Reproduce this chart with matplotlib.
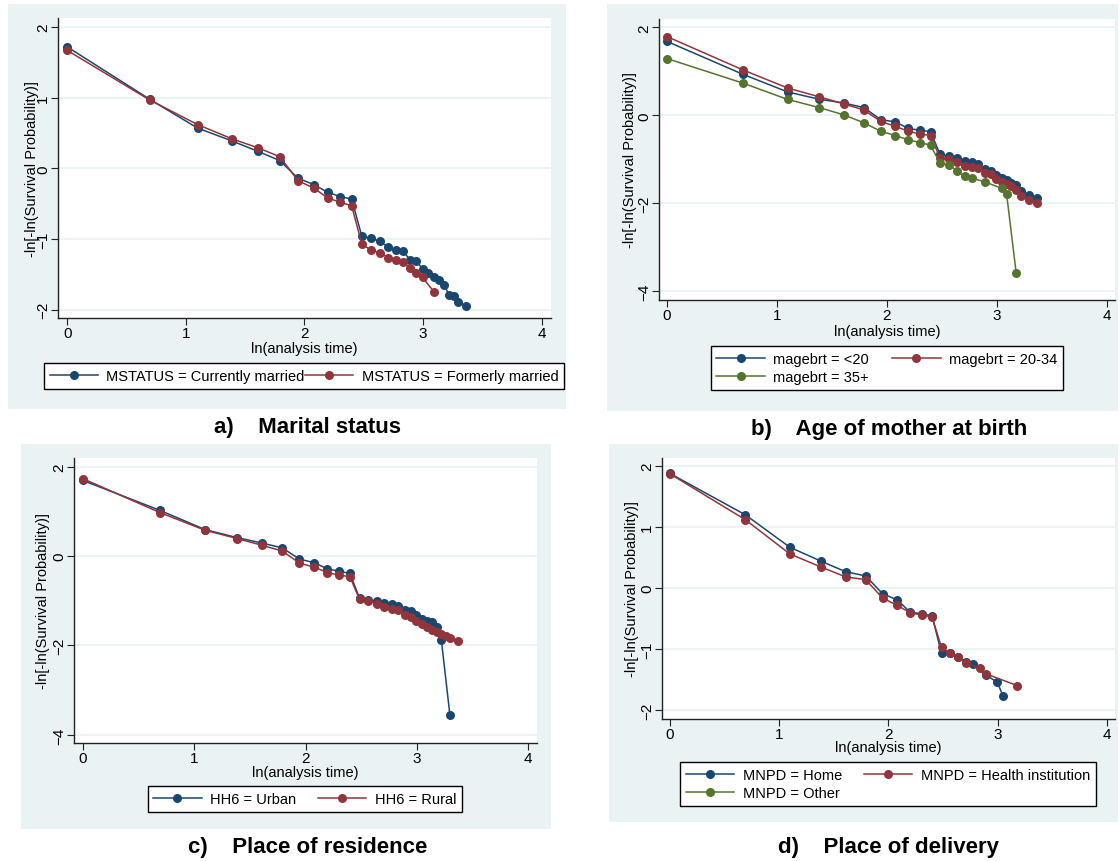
import matplotlib
matplotlib.use('Agg')
import matplotlib.pyplot as plt
from matplotlib.patches import Rectangle
from matplotlib.lines import Line2D

plt.rcParams['font.family'] = ['Liberation Sans', 'DejaVu Sans']

W, H = 1120, 862
NAVY = '#1a476f'
MAROON = '#90353b'
GREEN = '#55752f'
BG = '#eaf2f3'

# ln(analysis time) for t = 1..11 (shared start of every curve)
x_start = [0.0, 0.693, 1.099, 1.386, 1.609, 1.792, 1.946, 2.079, 2.197, 2.303, 2.398]

# a) Marital status
a_married_x = x_start + [2.485, 2.565, 2.639, 2.708, 2.773, 2.833, 2.890, 2.944, 2.996,
                         3.045, 3.091, 3.135, 3.178, 3.219, 3.258, 3.296, 3.367]
a_married_y = [1.72, 0.98, 0.57, 0.39, 0.24, 0.11, -0.14, -0.23, -0.34, -0.40, -0.435,
               -0.965, -0.99, -1.036, -1.117, -1.155, -1.173, -1.296, -1.31, -1.424,
               -1.485, -1.546, -1.584, -1.65, -1.79, -1.81, -1.89, -1.95]
a_former_x = x_start + [2.485, 2.565, 2.639, 2.708, 2.773, 2.833, 2.890, 2.944, 2.996, 3.091]
a_former_y = [1.67, 0.97, 0.62, 0.42, 0.29, 0.165, -0.175, -0.28, -0.42, -0.48, -0.53,
              -1.074, -1.163, -1.197, -1.268, -1.296, -1.325, -1.414, -1.48, -1.546, -1.745]

# b) Age of mother at birth
b_u20_x = x_start + [2.485, 2.565, 2.639, 2.708, 2.773, 2.833, 2.890, 2.944, 2.996,
                     3.045, 3.091, 3.135, 3.178, 3.219, 3.296, 3.367]
b_u20_y = [1.68, 0.93, 0.53, 0.365, 0.28, 0.175, -0.10, -0.15, -0.30, -0.34, -0.37,
           -0.89, -0.93, -0.98, -1.03, -1.07, -1.11, -1.225, -1.256, -1.36, -1.42,
           -1.48, -1.54, -1.59, -1.71, -1.81, -1.88]
b_2034_x = b_u20_x
b_2034_y = [1.79, 1.03, 0.62, 0.42, 0.26, 0.12, -0.14, -0.25, -0.365, -0.425, -0.46,
            -0.97, -1.00, -1.07, -1.16, -1.18, -1.20, -1.31, -1.33, -1.45, -1.51,
            -1.56, -1.61, -1.69, -1.84, -1.93, -1.99]
b_35_x = x_start + [2.485, 2.565, 2.639, 2.708, 2.773, 2.890, 3.045, 3.091, 3.178]
b_35_y = [1.29, 0.73, 0.36, 0.175, 0.01, -0.17, -0.365, -0.46, -0.56, -0.62, -0.68,
          -1.09, -1.12, -1.27, -1.39, -1.43, -1.51, -1.66, -1.80, -3.59]

# c) Place of residence
c_urban_x = x_start + [2.485, 2.565, 2.639, 2.708, 2.773, 2.833, 2.890, 2.944, 2.996,
                       3.045, 3.091, 3.135, 3.178, 3.219, 3.296]
c_urban_y = [1.69, 1.02, 0.59, 0.41, 0.29, 0.18, -0.07, -0.15, -0.29, -0.34, -0.39,
             -0.94, -0.985, -1.00, -1.05, -1.08, -1.11, -1.20, -1.23, -1.31, -1.40,
             -1.45, -1.48, -1.59, -1.87, -3.55]
c_rural_x = x_start + [2.485, 2.565, 2.639, 2.708, 2.773, 2.833, 2.890, 2.944, 2.996,
                       3.045, 3.091, 3.135, 3.178, 3.219, 3.258, 3.296, 3.367]
c_rural_y = [1.73, 0.97, 0.575, 0.39, 0.24, 0.11, -0.16, -0.25, -0.37, -0.43, -0.46,
             -0.97, -1.00, -1.07, -1.15, -1.18, -1.20, -1.33, -1.37, -1.46, -1.52,
             -1.59, -1.66, -1.70, -1.75, -1.79, -1.84, -1.91]

# d) Place of delivery
d_home_x = x_start + [2.485, 2.565, 2.639, 2.708, 2.773, 2.890, 2.996, 3.045]
d_home_y = [1.88, 1.20, 0.67, 0.44, 0.27, 0.20, -0.09, -0.19, -0.39, -0.42, -0.45,
            -1.065, -1.06, -1.125, -1.20, -1.24, -1.42, -1.54, -1.76]
d_health_x = x_start + [2.485, 2.565, 2.639, 2.708, 2.833, 2.890, 3.178]
d_health_y = [1.875, 1.12, 0.56, 0.345, 0.185, 0.14, -0.16, -0.28, -0.40, -0.44, -0.47,
              -0.97, -1.065, -1.12, -1.23, -1.31, -1.40, -1.595]
d_other_x = []
d_other_y = []

x_ticks = [0, 1, 2, 3, 4]


def fbox(x0, y0, x1, y1):
    # pixel box (top-left origin) -> figure fraction [left, bottom, width, height]
    return [x0 / W, 1 - y1 / H, (x1 - x0) / W, (y1 - y0) / H]


def make_panel(fig, bg, ax_px, xlim, ylim, yticks, series, order, colspace,
               leg_cx, leg_top, ylab_x, xlab_y, title, title_xy):
    fig.add_artist(Rectangle((bg[0] / W, 1 - bg[3] / H), (bg[2] - bg[0]) / W,
                             (bg[3] - bg[1]) / H, transform=fig.transFigure,
                             facecolor=BG, edgecolor='none', zorder=0))
    ax = fig.add_axes(fbox(*ax_px))
    ax.set_facecolor('white')
    for x, y, c, lab in series:
        ax.plot(x, y, '-o', color=c, lw=1.1, ms=6.5, mew=0, label=lab)
    ax.set_xlim(xlim)
    ax.set_ylim(ylim)
    ax.set_xticks(x_ticks)
    ax.set_yticks(yticks)
    ax.yaxis.grid(True, color=BG, lw=1.3)
    ax.set_axisbelow(True)
    for s in ['top', 'right']:
        ax.spines[s].set_visible(False)
    for s in ['left', 'bottom']:
        ax.spines[s].set_linewidth(1.0)
        ax.spines[s].set_color('#222222')
    ax.tick_params(axis='both', length=5, width=0.8, labelsize=11, color='#222222')
    ax.tick_params(axis='x', pad=1)
    ax.tick_params(axis='y', pad=0.5, labelrotation=90)
    for t in ax.get_yticklabels():
        t.set_va('center')

    w = ax_px[2] - ax_px[0]
    h = ax_px[3] - ax_px[1]
    ax.set_ylabel('-ln[-ln(Survival Probability)]', fontsize=10.5, va='center')
    ax.yaxis.set_label_coords((ylab_x - ax_px[0]) / w, 0.5)
    ax.set_xlabel('ln(analysis time)', fontsize=10.5, va='center')
    ax.xaxis.set_label_coords(0.5, -(xlab_y - ax_px[3]) / h)

    handles = [Line2D([], [], color=c, lw=1.1, marker='o', ms=6.5, mew=0) for _, _, c, _ in series]
    labels = [lab for _, _, _, lab in series]
    handles = [handles[i] for i in order]
    labels = [labels[i] for i in order]
    leg = ax.legend(handles, labels, loc='upper center', ncol=2,
                    bbox_to_anchor=(leg_cx / W, 1 - leg_top / H),
                    bbox_transform=fig.transFigure, fontsize=10.5, frameon=True,
                    fancybox=False, edgecolor='black', framealpha=1,
                    handlelength=3.3, handletextpad=0.6, columnspacing=colspace,
                    borderpad=0.4, labelspacing=0.3, borderaxespad=0)
    leg.get_frame().set_linewidth(1.0)

    fig.text(title_xy[0] / W, 1 - title_xy[1] / H, title, ha='center', va='center',
             fontsize=16, fontweight='bold')
    return ax


fig = plt.figure(figsize=(11.2, 8.62), dpi=100)

make_panel(fig, (8, 5, 566, 410), (58, 19, 551, 319), (-0.079, 4.08), (-2.12, 2.13),
           [-2, -1, 0, 1, 2],
           [(a_married_x, a_married_y, NAVY, 'MSTATUS = Currently married'),
            (a_former_x, a_former_y, MAROON, 'MSTATUS = Formerly married')],
           [0, 1], 0.0, 304, 364, 32, 349, 'a)    Marital status', (308, 428))

make_panel(fig, (607, 5, 1118, 412), (659, 20, 1115, 301), (-0.073, 4.077), (-4.2, 2.19),
           [-4, -2, 0, 2],
           [(b_u20_x, b_u20_y, NAVY, 'magebrt = <20'),
            (b_2034_x, b_2034_y, MAROON, 'magebrt = 20-34'),
            (b_35_x, b_35_y, GREEN, 'magebrt = 35+')],
           [0, 2, 1], 1.6, 887, 347, 630, 332, 'b)    Age of mother at birth', (889, 429))

make_panel(fig, (21, 445, 551, 830), (74, 459, 537, 744), (-0.078, 4.078), (-4.18, 2.19),
           [-4, -2, 0, 2],
           [(c_urban_x, c_urban_y, NAVY, 'HH6 = Urban'),
            (c_rural_x, c_rural_y, MAROON, 'HH6 = Rural')],
           [0, 1], 1.5, 305, 787, 43, 773, 'c)    Place of residence', (308, 848))

make_panel(fig, (609, 445, 1118, 823), (662, 459, 1115, 720), (-0.069, 4.07), (-2.14, 2.13),
           [-2, -1, 0, 1, 2],
           [(d_home_x, d_home_y, NAVY, 'MNPD = Home'),
            (d_health_x, d_health_y, MAROON, 'MNPD = Health institution'),
            (d_other_x, d_other_y, GREEN, 'MNPD = Other')],
           [0, 2, 1], 1.5, 888, 763, 632, 748, 'd)    Place of delivery', (889, 848))

fig.savefig('out.png', dpi=100, facecolor='white')
